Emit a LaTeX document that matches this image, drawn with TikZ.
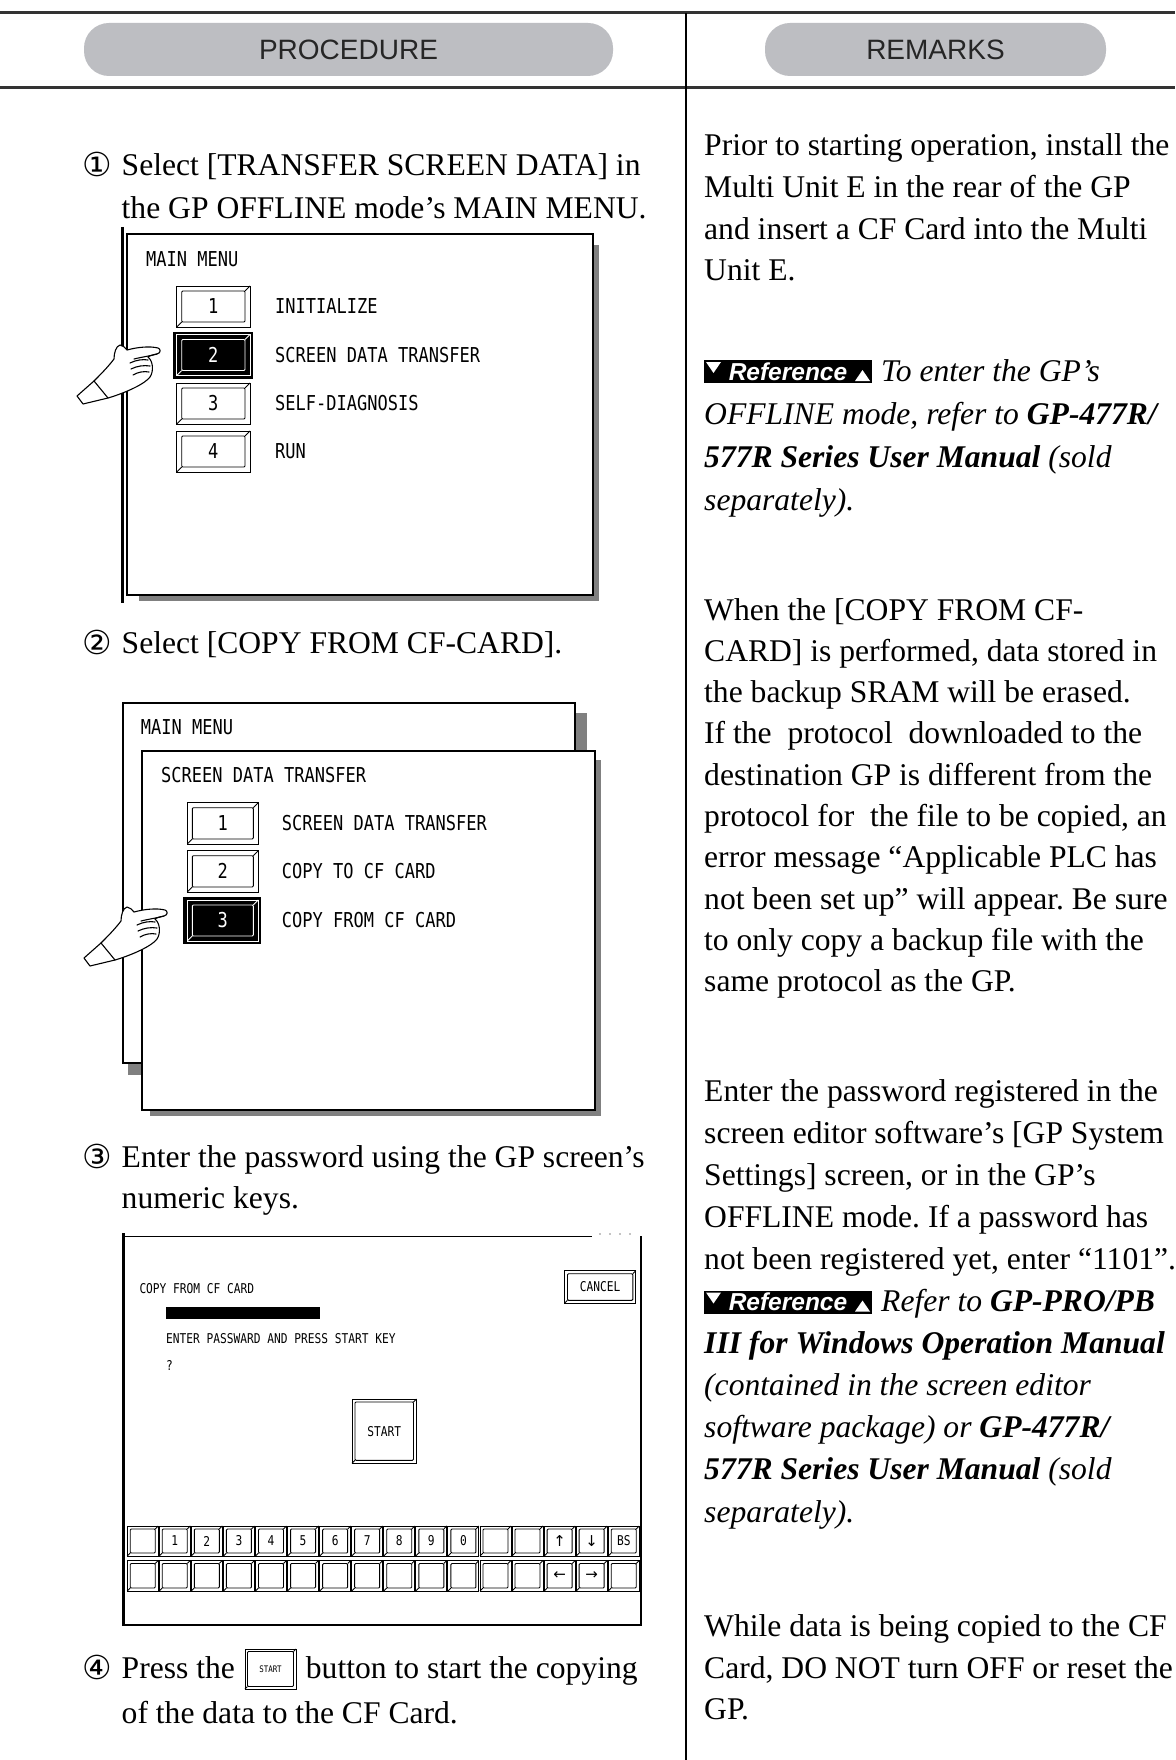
\documentclass[tikz,border=0pt]{standalone}
\usepackage{fontspec}
\setmainfont{Liberation Serif}
\newfontfamily\hdrfont{Liberation Sans}
\newfontfamily\scrfont[FakeStretch=0.83]{DejaVu Sans Mono}
\newfontfamily\circfont{DejaVu Sans}
\newfontfamily\badgefont{Liberation Sans}
\definecolor{pillgray}{HTML}{BDBEC2}
\frenchspacing
\newcommand{\ArrowGlyph}[1]{{\circfont\fontsize{15}{16}\selectfont #1}}

\newcommand{\GPbtn}[8]{%
  \draw[btnline,fill=white] (#2,#3) rectangle (#4,#5);
  \draw[btnline,rounded corners=1pt] ({#2+#6},{#3+#6}) rectangle ({#4-#6},{#5-#6});
  \draw[btnline] (#4,#3) -- ({#4-#6},{#3+#6});
  \draw[btnline] (#2,#5) -- ({#2+#6},{#5-#6});
  \node[#7] (#1) at ({(#2+#4)/2},{(#3+#5)/2}) {#8};
}
\newcommand{\GPbtnSel}[8]{%
  \fill[black] ({#2-4},{#3-3}) rectangle ({#4+3},{#5+3});
  \draw[btnline,white] (#2,#3) rectangle (#4,#5);
  \draw[btnline,white,rounded corners=1pt] ({#2+#6},{#3+#6}) rectangle ({#4-#6},{#5-#6});
  \draw[btnline,white] (#4,#3) -- ({#4-#6},{#3+#6});
  \draw[btnline,white] (#2,#5) -- ({#2+#6},{#5-#6});
  \node[#7,text=white] (#1) at ({(#2+#4)/2},{(#3+#5)/2}) {#8};
}
\newcommand{\HandPointer}[2]{%
  \begin{scope}[shift={(#1,#2)}]
    \draw[handline,fill=white] (-46,8) .. controls (-46,2) and (-44,-5) .. (-40,-6)
      .. controls (-37,-6) and (-35,-3) .. (-33,-1)
      .. controls (-22,-4) and (-10,-5) .. (-2,-3)
      .. controls (1,-2) and (1,2) .. (-3,3)
      .. controls (-8,4) and (-11,5) .. (-12,6)
      .. controls (-7,10) and (-6,20) .. (-10,26)
      .. controls (-15,33) and (-35,42) .. (-52,47)
      -- (-77,53) -- (-83,45) -- (-66,30)
      .. controls (-60,24) and (-52,16) .. (-46,8) -- cycle;
    \draw[handline] (-3,3) .. controls (-10,5) and (-18,6) .. (-26,8);
    \draw[handline] (-30,12) .. controls (-24,9) and (-17,8) .. (-12,9);
    \draw[handline] (-29,18) .. controls (-23,15) and (-16,14) .. (-10,15);
    \draw[handline] (-27,24) .. controls (-22,21) and (-16,20) .. (-11,21);
    \draw[handline] (-66,30) -- (-52,47);
  \end{scope}}
\newcommand{\RefBadge}[3]{%
  \fill[black] (#2,{#3-21}) rectangle ({#2+168},{#3+2});
  \fill[white] ({#2+2},{#3-19}) -- ({#2+17},{#3-19}) -- ({#2+9.5},{#3-8}) -- cycle;
  \fill[white] ({#2+151},{#3}) -- ({#2+166},{#3}) -- ({#2+158.5},{#3-11}) -- cycle;
  \node[badge] (#1) at ({#2+84},{#3-9.5}) {Reference};
}

\begin{document}
\begin{tikzpicture}[x=1pt,y=-1pt,
  txt/.style={anchor=base west,inner sep=0pt,font=\fontsize{31.6}{38}\selectfont},
  circ/.style={anchor=base west,inner sep=0pt,font=\circfont\fontsize{33}{36}\selectfont},
  hdr/.style={inner sep=0pt,font=\hdrfont\fontsize{28}{32}\selectfont,text=black!85},
  pill/.style={fill=pillgray,rounded corners=25pt,inner sep=0pt},
  hdrrule/.style={line width=3pt,draw=black!80},
  scrbig/.style={anchor=west,inner sep=0pt,font=\scrfont\fontsize{20.5}{24}\selectfont},
  scrc/.style={anchor=center,inner sep=0pt,font=\scrfont\fontsize{20.5}{24}\selectfont},
  scrsmall/.style={anchor=west,inner sep=0pt,font=\scrfont\fontsize{13.5}{15}\selectfont},
  scrsc/.style={anchor=center,inner sep=0pt,font=\scrfont\fontsize{13.5}{15}\selectfont},
  tinylbl/.style={anchor=center,inner sep=0pt,font=\scrfont\fontsize{9}{10}\selectfont},
  scrframe/.style={line width=1.8pt},
  shadowfill/.style={fill=black!50},
  btnline/.style={line width=0.9pt},
  handline/.style={line width=1.1pt,line join=round,line cap=round},
  badge/.style={inner sep=0pt,text=white,font=\badgefont\bfseries\itshape\fontsize{24.5}{26}\selectfont},
]
\useasboundingbox (0,0) rectangle (1175,1760);
\fill[white] (0,0) rectangle (1175,1760);

% ---------- header ----------
\draw[hdrrule] (0,13) -- (1175,13);
\draw[hdrrule] (0,88) -- (1175,88);
\draw[line width=2pt] (686,13) -- (686,1760);
\node[pill,minimum width=529pt,minimum height=53pt] (procpill) at (348.5,49.5) {};
\node[hdr] (proctxt) at (procpill.center) {PROCEDURE};
\node[pill,minimum width=341pt,minimum height=53pt] (rempill) at (935.5,49.5) {};
\node[hdr] (remtxt) at (rempill.center) {REMARKS};

% ---------- step 1 ----------
\node[circ] (n1) at (82,177) {①};
\node[txt] (s1a) at (121.5,176) {Select [TRANSFER SCREEN DATA] in};
\node[txt] (s1b) at (121.5,219) {the GP OFFLINE mode’s MAIN MENU.};

\draw[line width=2.5pt] (122.5,227) -- (122.5,603);
\fill[shadowfill] (593,245) rectangle (598.5,600.5);
\fill[shadowfill] (139,595) rectangle (598.5,600.5);
\draw[scrframe,fill=white] (127,234) rectangle (593,595);
\node[scrbig] (mm1) at (146,259) {MAIN MENU};
\GPbtn{b11}{176.7}{286}{250}{327}{5}{scrc}{1}
\GPbtnSel{b12}{176.7}{334.5}{250}{375.5}{5}{scrc}{2}
\GPbtn{b13}{176.7}{383}{250}{424}{5}{scrc}{3}
\GPbtn{b14}{176.7}{431}{250}{472}{5}{scrc}{4}
\node[scrbig] (l11) at (275,306.5) {INITIALIZE};
\node[scrbig] (l12) at (275,355) {SCREEN DATA TRANSFER};
\node[scrbig] (l13) at (275,403.5) {SELF-DIAGNOSIS};
\node[scrbig] (l14) at (275,451.5) {RUN};
\HandPointer{160}{351}

% ---------- step 2 ----------
\node[circ] (n2) at (82,654) {②};
\node[txt] (s2) at (121.5,653) {Select [COPY FROM CF-CARD].};

\fill[shadowfill] (576,713) rectangle (587,760);
\fill[shadowfill] (128,1063) rectangle (145,1075);
\draw[scrframe,fill=white] (122.7,702.7) rectangle (575,1063.3);
\node[scrbig] (mm2) at (140.7,726.7) {MAIN MENU};
\fill[shadowfill] (595,760) rectangle (600.5,1115.5);
\fill[shadowfill] (150,1110) rectangle (600.5,1115.5);
\draw[scrframe,fill=white] (142.3,750.7) rectangle (595,1110);
\node[scrbig] (sdt) at (161,775) {SCREEN DATA TRANSFER};
\GPbtn{b21}{187.3}{802.7}{258.3}{844}{5}{scrc}{1}
\GPbtn{b22}{187.3}{850.7}{258.3}{892}{5}{scrc}{2}
\GPbtnSel{b23}{187.3}{900}{258.3}{941}{5}{scrc}{3}
\node[scrbig] (l21) at (281.7,823.3) {SCREEN DATA TRANSFER};
\node[scrbig] (l22) at (281.7,871.3) {COPY TO CF CARD};
\node[scrbig] (l23) at (281.7,920.5) {COPY FROM CF CARD};
\HandPointer{167}{913}

% ---------- step 3 ----------
\node[circ] (n3) at (82,1168) {③};
\node[txt] (s3a) at (121.5,1167) {Enter the password using the GP screen’s};
\node[txt] (s3b) at (121.5,1208.5) {numeric keys.};

\draw[line width=1pt] (123,1236) -- (592,1236);
\foreach \dx in {600,610,620,630} \fill (\dx,1234) circle (0.7);
\draw[line width=1.5pt] (641,1236) -- (641,1625);
\draw[line width=2.5pt] (123,1625) -- (641.7,1625);
\draw[line width=3pt] (123.5,1233) -- (123.5,1626);
\node[scrsmall] (cfc) at (139.3,1288.3) {COPY FROM CF CARD};
\fill[black] (166,1306.7) rectangle (320,1319.3);
\node[scrsmall] (enter) at (166,1339) {ENTER PASSWARD AND PRESS START KEY};
\node[scrsmall] (qm) at (166,1365) {?};
\GPbtn{cancel}{564.5}{1270.7}{635.8}{1303.3}{3}{scrsc}{CANCEL}
\GPbtn{startb}{352}{1399}{416.5}{1463.3}{3}{scrsc}{START}
\foreach \i/\lab in {0/{},1/1,2/2,3/3,4/4,5/5,6/6,7/7,8/8,9/9,10/0,11/{},12/{},13/{\ArrowGlyph{↑}},14/{\ArrowGlyph{↓}},15/BS} {
  \GPbtn{ka\i}{127.2+32.07*\i}{1526}{127.2+32.07*\i+31}{1556}{3}{scrsc}{\lab}
}
\foreach \i/\lab in {0/{},1/{},2/{},3/{},4/{},5/{},6/{},7/{},8/{},9/{},10/{},11/{},12/{},13/{\ArrowGlyph{←}},14/{\ArrowGlyph{→}},15/{}} {
  \GPbtn{kb\i}{127.2+32.07*\i}{1560.5}{127.2+32.07*\i+31}{1591}{3}{scrsc}{\lab}
}

% ---------- step 4 ----------
\node[circ] (n4) at (82,1679) {④};
\node[txt] (s4a) at (121.5,1678) {Press the};
\GPbtn{bmini}{245}{1649}{296}{1689}{2.5}{tinylbl}{START}
\node[txt] (s4b) at (305.7,1678) {button to start the copying};
\node[txt] (s4c) at (121.5,1723) {of the data to the CF Card.};

% ---------- remarks ----------
\node[txt] (r1) at (704,156) {Prior to starting operation, install the};
\node[txt] (r2) at (704,197.6) {Multi Unit E in the rear of the GP};
\node[txt] (r3) at (704,239.2) {and insert a CF Card into the Multi};
\node[txt] (r4) at (704,280.8) {Unit E.};

\RefBadge{ref1}{704}{381}
\node[txt] (r5) at (881,381) {\itshape To enter the GP’s};
\node[txt] (r6) at (704,424) {\itshape OFFLINE mode, refer to \textbf{GP-477R/}};
\node[txt] (r7) at (704,467) {\itshape\textbf{577R Series User Manual} (sold};
\node[txt] (r8) at (704,510) {\itshape separately).};

\node[txt] (r9) at (704,620) {When the [COPY FROM CF-};
\node[txt] (r10) at (704,661.3) {CARD] is performed, data stored in};
\node[txt] (r11) at (704,702.6) {the backup SRAM will be erased.};
\node[txt] (r12) at (704,743.9) {If the\ \ protocol\ \ downloaded to the};
\node[txt] (r13) at (704,785.2) {destination GP is different from the};
\node[txt] (r14) at (704,826.5) {protocol for\ \ the file to be copied, an};
\node[txt] (r15) at (704,867.8) {error message “Applicable PLC has};
\node[txt] (r16) at (704,909.1) {not been set up” will appear. Be sure};
\node[txt] (r17) at (704,950.4) {to only copy a backup file with the};
\node[txt] (r18) at (704,991.7) {same protocol as the GP.};

\node[txt] (r19) at (704,1101) {Enter the password registered in the};
\node[txt] (r20) at (704,1143.1) {screen editor software’s [GP System};
\node[txt] (r21) at (704,1185.2) {Settings] screen, or in the GP’s};
\node[txt] (r22) at (704,1227.3) {OFFLINE mode. If a password has};
\node[txt] (r23) at (704,1269.4) {not been registered yet, enter “1101”.};
\RefBadge{ref2}{704}{1311.5}
\node[txt] (r24) at (881,1311.5) {\itshape Refer to \textbf{GP-PRO/PB}};
\node[txt] (r25) at (704,1353.6) {\itshape\textbf{III for Windows Operation Manual}};
\node[txt] (r26) at (704,1395.7) {\itshape (contained in the screen editor};
\node[txt] (r27) at (704,1437.8) {\itshape software package) or \textbf{GP-477R/}};
\node[txt] (r28) at (704,1479.9) {\itshape\textbf{577R Series User Manual} (sold};
\node[txt] (r29) at (704,1522) {\itshape separately).};

\node[txt] (r30) at (704,1636) {While data is being copied to the CF};
\node[txt] (r31) at (704,1678) {Card, DO NOT turn OFF or reset the};
\node[txt] (r32) at (704,1719.5) {GP.};
\end{tikzpicture}
\end{document}
